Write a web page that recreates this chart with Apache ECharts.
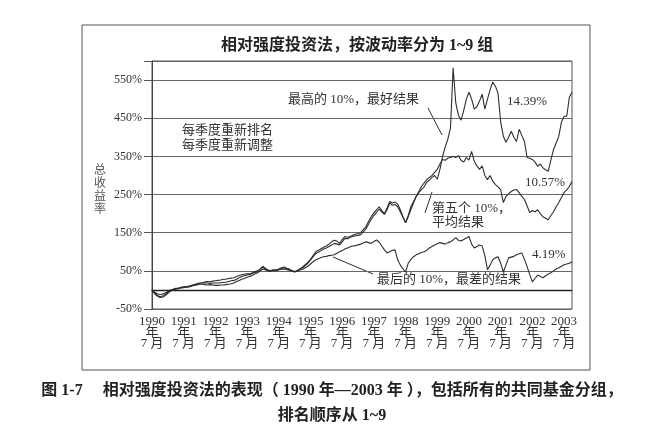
<!DOCTYPE html>
<html>
<head>
<meta charset="utf-8">
<script src="https://cdn.jsdelivr.net/npm/echarts@6/dist/echarts.min.js"></script>
<style>
  html, body { margin: 0; padding: 0; background: #fff; }
  #chart { width: 664px; height: 435px; }
</style>
</head>
<body>
<div id="chart"></div>
<script>
// monthly points, July 1990 to October 2003
const START_YEAR = 1990
const START_MONTH = 7
const MONTH_COUNT = 160

// top 10% (best), ends around 14.39% a year
const best = [
  0, -6, -10, -12, -11, -8, -4, 0, 2, 4,
  5, 7, 8, 9, 10, 12, 14, 16, 18, 19,
  21, 22, 21, 23, 24, 25, 26, 28, 28, 30,
  31, 32, 35, 38, 40, 41, 42, 42, 45, 48,
  50, 55, 62, 56, 52, 51, 53, 52, 55, 58,
  60, 57, 55, 50, 48, 51, 55, 60, 66, 72,
  80, 90, 100, 104, 108, 112, 115, 120, 126, 130,
  128, 122, 132, 140, 138, 140, 143, 146, 148, 150,
  158, 166, 180, 192, 202, 210, 218, 208, 200, 215,
  232, 228, 230, 225, 210, 192, 176, 192, 210, 228,
  245, 255, 263, 270, 282, 288, 295, 300, 290, 316,
  350, 375, 395, 425, 582, 490, 458, 445, 470, 500,
  518, 500, 474, 480, 495, 513, 474, 500, 525, 545,
  534, 515, 440, 403, 387, 400, 416, 400, 389, 421,
  405, 389, 347, 345, 342, 335, 324, 330, 320, 315,
  311, 340, 368, 385, 403, 440, 455, 455, 505, 518
]

// fifth 10% (average), ends around 10.57%
const middle = [
  0, -8, -14, -18, -16, -12, -6, -2, 1, 3,
  4, 6, 7, 8, 9, 11, 13, 15, 17, 18,
  19, 18, 17, 18, 18, 18, 19, 20, 20, 22,
  24, 25, 28, 32, 35, 37, 39, 40, 43, 46,
  48, 54, 60, 54, 50, 49, 51, 50, 53, 56,
  58, 55, 52, 49, 47, 50, 55, 58, 64, 70,
  78, 87, 95, 99, 103, 107, 110, 114, 118, 122,
  120, 118, 126, 135, 134, 138, 140, 142, 143, 145,
  152, 160, 173, 185, 195, 203, 212, 204, 198, 210,
  228, 222, 224, 218, 205, 190, 176, 195, 218, 232,
  245, 258, 271, 280, 289, 295, 300, 308, 316, 330,
  342, 340, 345, 348, 350, 347, 352, 340, 335, 347,
  340, 363, 337, 325, 316, 325, 300, 289, 300, 285,
  276, 270, 262, 229, 245, 252, 258, 262, 263, 255,
  245, 237, 220, 203, 208, 205, 210, 200, 192, 188,
  184, 195, 205, 218, 229, 242, 255, 262, 271, 284
]

// bottom 10% (worst), ends around 4.19%
const worst = [
  0, -10, -16, -20, -19, -15, -9, -3, 0, 2,
  3, 5, 6, 7, 8, 10, 12, 13, 15, 15,
  14, 13, 14, 13, 12, 12, 13, 13, 14, 15,
  16, 18, 22, 25, 28, 30, 33, 35, 38, 42,
  45, 50, 55, 52, 50, 50, 52, 52, 53, 54,
  55, 53, 52, 50, 48, 49, 52, 54, 58, 62,
  68, 74, 79, 82, 85, 87, 88, 90, 91, 92,
  96, 100, 103, 107, 110, 113, 115, 116, 118, 120,
  123, 126, 124, 122, 127, 131, 125, 115, 105, 97,
  100, 104, 105, 79, 65, 55, 47, 70, 80, 87,
  92, 95, 98, 100, 104, 110, 114, 118, 121, 124,
  122, 120, 124, 126, 131, 137, 130, 128, 132, 136,
  140, 120, 110, 114, 118, 115, 90, 53, 65, 79,
  84, 87, 70, 47, 65, 84, 86, 88, 92, 95,
  97, 80, 61, 40, 21, 30, 39, 35, 32, 37,
  42, 45, 50, 55, 58, 62, 66, 68, 70, 74
]

const yTicks = [-50, 50, 150, 250, 350, 450, 550]
const yName = ['总', '收', '益', '率']

const months = []
for (let i = 0; i < MONTH_COUNT; i++) {
  const n = START_MONTH - 1 + i
  const y = START_YEAR + Math.floor(n / 12)
  const m = (n % 12) + 1
  months.push(`${y}-${String(m).padStart(2, '0')}`)
}

const LINE_COLOR = '#2e2e2e'
const GRID_COLOR = '#666'
const TEXT_COLOR = '#333'
const FONT = "'Liberation Serif', 'Noto Sans CJK SC', serif"

const lineSeries = (name, data) => ({
  name,
  type: 'line',
  data,
  symbol: 'none',
  smooth: false,
  lineStyle: { color: LINE_COLOR, width: 1.1 }
})

const note = (x, y, text, extra = {}) => ({
  type: 'text',
  left: x,
  top: y,
  style: { text, font: `13px ${FONT}`, fill: TEXT_COLOR, ...extra }
})

const leader = (x1, y1, x2, y2) => ({
  type: 'line',
  shape: { x1, y1, x2, y2 },
  style: { stroke: LINE_COLOR, lineWidth: 1 }
})

const chart = echarts.init(document.getElementById('chart'))

chart.setOption({
  backgroundColor: '#fff',
  animation: false,
  grid: { left: 152, right: 92, top: 61, bottom: 126, show: true, borderColor: '#555', borderWidth: 1 },
  xAxis: {
    type: 'category',
    data: months,
    boundaryGap: false,
    axisLine: { lineStyle: { color: '#444' } },
    axisTick: { show: false },
    axisLabel: {
      interval: (i, v) => v.endsWith('-07'),
      formatter: v => `${v.slice(0, 4)}\n年\n7 月`,
      color: TEXT_COLOR,
      fontFamily: FONT,
      fontSize: 13,
      lineHeight: 11,
      margin: 7
    },
    splitLine: { show: false }
  },
  yAxis: {
    type: 'value',
    min: -50,
    max: 600,
    interval: 100,
    axisLine: { show: true, lineStyle: { color: '#444' } },
    axisTick: { show: true, length: 8, lineStyle: { color: '#555' } },
    axisLabel: {
      formatter: v => (yTicks.includes(v) ? `${v}%` : ''),
      color: TEXT_COLOR,
      fontFamily: FONT,
      fontSize: 12,
      margin: 10
    },
    splitLine: { show: true, lineStyle: { color: GRID_COLOR, width: 1 } }
  },
  series: [
    {
      ...lineSeries('最高的 10%', best),
      markLine: {
        silent: true,
        symbol: 'none',
        label: { show: false },
        lineStyle: { color: '#222', type: 'solid', width: 1.4 },
        data: [{ yAxis: 0 }]
      }
    },
    lineSeries('第五个 10%', middle),
    lineSeries('最后的 10%', worst)
  ],
  graphic: [
    {
      type: 'rect',
      shape: { x: 82, y: 25, width: 508, height: 345 },
      style: { fill: 'none', stroke: '#555', lineWidth: 1 },
      z: -1
    },
    {
      type: 'text',
      left: 221,
      top: 38,
      style: {
        text: '相对强度投资法，按波动率分为 1~9 组',
        font: `bold 16px ${FONT}`,
        fill: '#222'
      }
    },
    ...yName.map((ch, i) => ({
      type: 'text',
      left: 94,
      top: 165 + i * 13,
      style: { text: ch, font: `12px ${FONT}`, fill: '#555' }
    })),
    note(288, 93, '最高的 10%，最好结果'),
    leader(428, 108, 442, 135),
    note(507, 95, '14.39%'),
    note(182, 123, '每季度重新排名\n每季度重新调整', { lineHeight: 15 }),
    note(525, 176, '10.57%'),
    note(432, 202, '第五个 10%，\n平均结果', { lineHeight: 14 }),
    leader(425, 213, 432, 192),
    note(532, 248, '4.19%'),
    note(377, 273, '最后的 10%，最差的结果'),
    leader(333, 257, 373, 274),
    {
      type: 'text',
      left: 'center',
      top: 383,
      style: {
        text: '图 1-7　 相对强度投资法的表现（ 1990 年—2003 年 ），包括所有的共同基金分组，',
        font: `bold 16px ${FONT}`,
        fill: '#222'
      }
    },
    {
      type: 'text',
      left: 'center',
      top: 408,
      style: { text: '排名顺序从 1~9', font: `bold 16px ${FONT}`, fill: '#222' }
    }
  ]
})
</script>
</body>
</html>
